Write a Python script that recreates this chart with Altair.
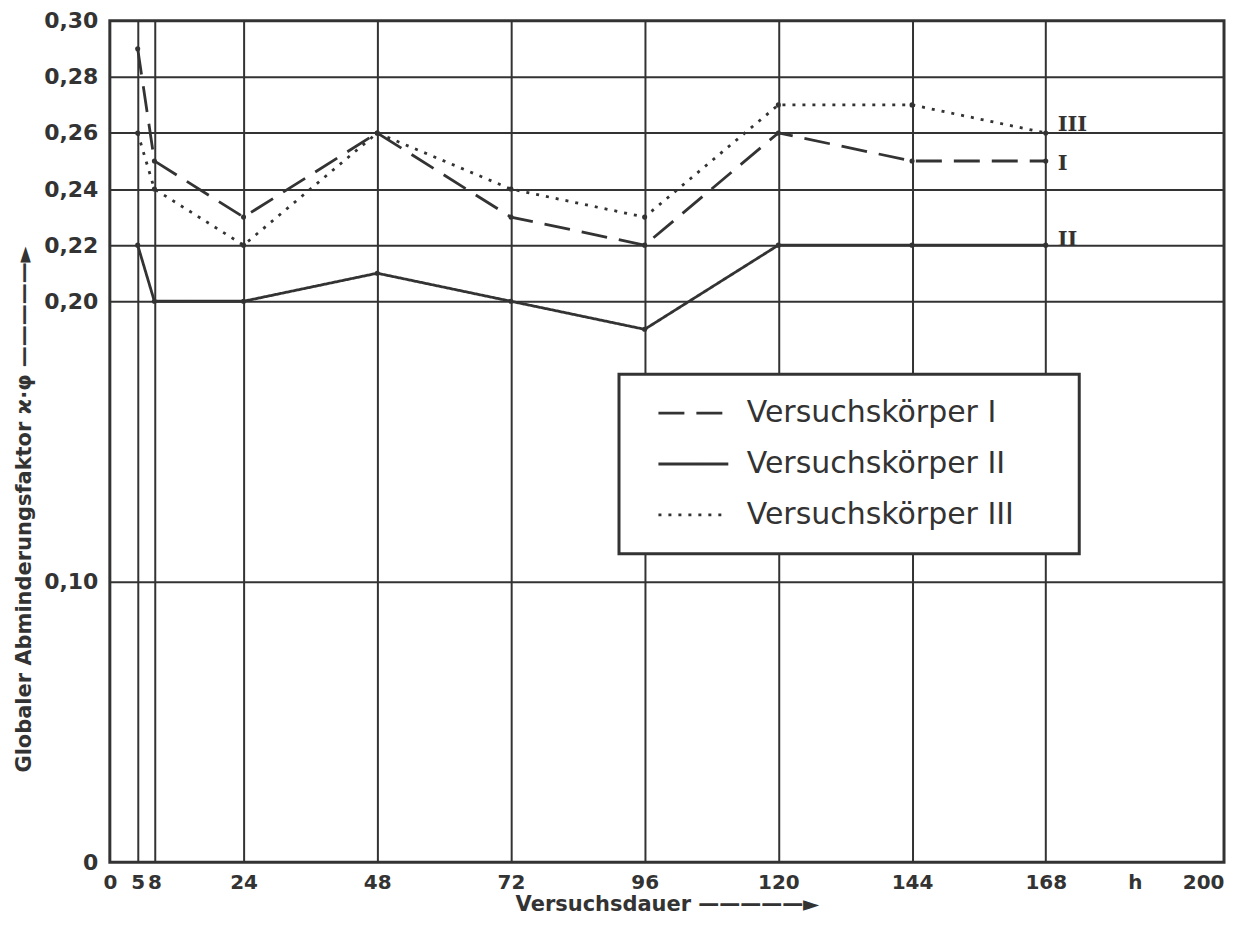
import altair as alt
import pandas as pd

# ---- data ----
hours = [5, 8, 24, 48, 72, 96, 120, 144, 168]
vk_1 = [0.29, 0.25, 0.23, 0.26, 0.23, 0.22, 0.26, 0.25, 0.25]
vk_2 = [0.22, 0.20, 0.20, 0.21, 0.20, 0.19, 0.22, 0.22, 0.22]
vk_3 = [0.26, 0.24, 0.22, 0.26, 0.24, 0.23, 0.27, 0.27, 0.26]
series_names = ["Versuchskörper I", "Versuchskörper II", "Versuchskörper III"]

end_labels = ["I", "II", "III"]
end_label_x = [168, 168, 168]
end_label_y = [0.249, 0.222, 0.263]

x_ticks = [0, 5, 8, 24, 48, 72, 96, 120, 144, 168, 184, 200]
y_ticks = [0, 0.10, 0.20, 0.22, 0.24, 0.26, 0.28, 0.30]

rows = []
for name, vals in zip(series_names, [vk_1, vk_2, vk_3]):
    for h, v in zip(hours, vals):
        rows.append({"Stunden": h, "Wert": v, "Reihe": name})
df = pd.DataFrame(rows)
end_df = pd.DataFrame({"Stunden": end_label_x, "Wert": end_label_y, "Text": end_labels})

INK = "#333333"
FONT = "DejaVu Sans"

x_scale = alt.Scale(domain=[0, 200], nice=False, zero=False)
y_scale = alt.Scale(domain=[0, 0.30], nice=False)

x_axis = alt.Axis(
    values=x_ticks,
    format="d",
    labelExpr="datum.value == 184 ? 'h' : datum.label",
    labelOverlap=False,
    labelFlush=False,
    labelAlign={"condition": {"test": "datum.value == 200", "value": "right"}, "value": "center"},
    labelPadding=10,
    gridOpacity={"condition": {"test": "datum.value == 0 || datum.value == 184 || datum.value == 200", "value": 0}, "value": 1},
    title="Versuchsdauer  —————►",
    titleY=42,
    titleBaseline="middle",
    titleFontSize=21,
)
y_axis = alt.Axis(
    values=y_ticks,
    labelExpr="datum.value == 0 ? '0' : replace(format(datum.value, '.2f'), '.', ',')",
    labelOverlap=False,
    labelFlush=False,
    labelPadding=12,
    labelFontSize=22,
    gridOpacity={"condition": {"test": "datum.value == 0 || datum.value == 0.3", "value": 0}, "value": 1},
    title="Globaler Abminderungsfaktor  ϰ·φ  —————►",
    titleX=-85,
    titleY=489,
    titleAngle=270,
    titleAlign="center",
    titleBaseline="middle",
    titleFontSize=21,
)

legend = alt.Legend(
    orient="none",
    legendX=510,
    legendY=354,
    title=None,
    fillColor="white",
    strokeColor=INK,
    padding=21,
    clipHeight=36,
    rowPadding=15,
    symbolType="stroke",
    symbolSize=4900,
    symbolStrokeWidth=2.8,
    symbolStrokeColor=INK,
    symbolOffset=17,
    labelOffset=17,
    labelFontSize=30,
    labelFont=FONT,
    labelColor=INK,
    labelLimit=600,
    labelExpr="datum.label + '\u2800\u2800'",
)

lines = alt.Chart(df).mark_line(color=INK, strokeWidth=2.8).encode(
    x=alt.X("Stunden:Q", scale=x_scale, axis=x_axis),
    y=alt.Y("Wert:Q", scale=y_scale, axis=y_axis),
    strokeDash=alt.StrokeDash(
        "Reihe:N",
        scale=alt.Scale(domain=series_names, range=[[26, 12], [1, 0], [3, 7]]),
        legend=legend,
    ),
)

points = alt.Chart(df).mark_circle(size=26, color=INK, opacity=1).encode(
    x="Stunden:Q",
    y="Wert:Q",
)

texts = alt.Chart(end_df).mark_text(
    font="DejaVu Serif", fontWeight="bold", fontSize=21, align="left", baseline="middle", dx=12, color=INK
).encode(
    x="Stunden:Q",
    y="Wert:Q",
    text="Text:N",
)

chart = (
    alt.layer(lines, points, texts)
    .properties(
        width=1116,
        height=843,
        autosize=alt.AutoSizeParams(type="none"),
        padding={"left": 102, "top": 12, "right": 5, "bottom": 58},
        background="white",
    )
    .configure_view(stroke=INK, strokeWidth=3)
    .configure_axis(
        domain=False,
        ticks=False,
        grid=True,
        gridColor=INK,
        gridWidth=2,
        labelFont=FONT,
        labelFontSize=20,
        labelFontWeight="bold",
        labelColor=INK,
        titleFont=FONT,
        titleFontWeight="bold",
        titleColor=INK,
    )
    .configure_legend(strokeWidth=3)
)

chart.save("out.html", embed_options={"renderer": "svg", "actions": False})
